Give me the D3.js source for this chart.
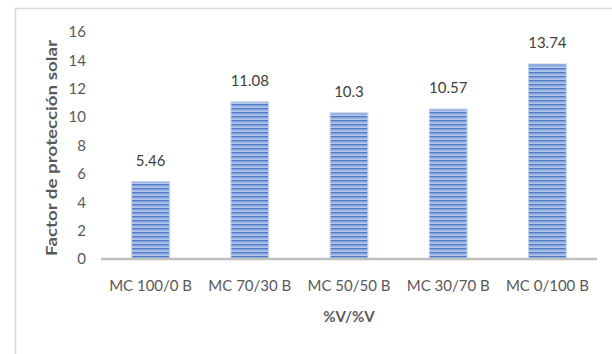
<!DOCTYPE html>
<html>
<head>
<meta charset="utf-8">
<script src="https://cdn.jsdelivr.net/npm/d3@7"></script>
<style>
  html, body { margin: 0; padding: 0; background: #fff; }
  svg { display: block; }
  text { font-family: Lato, "Open Sans", sans-serif; }
</style>
</head>
<body>
<svg id="chart" width="612" height="354"></svg>
<script>
// Sun protection factor per mixture (% v/v)
const categories = ["MC 100/0 B", "MC 70/30 B", "MC 50/50 B", "MC 30/70 B", "MC 0/100 B"];
const values = [5.46, 11.08, 10.3, 10.57, 13.74];
const valueLabels = ["5.46", "11.08", "10.3", "10.57", "13.74"];
const yTicks = [0, 2, 4, 6, 8, 10, 12, 14, 16];
const xTitle = "%V/%V";
const yTitle = "Factor de protección solar";

const svg = d3.select("#chart");
const W = 612, H = 354;

// chart frame
svg.append("path")
  .attr("d", `M15.5,${H} V8.5 H${W}`)
  .attr("fill", "none")
  .attr("stroke", "#d9d9d9")
  .attr("stroke-width", 1.5);

// striped fill for the bars
const defs = svg.append("defs");
const pat = defs.append("pattern")
  .attr("id", "stripes")
  .attr("patternUnits", "userSpaceOnUse")
  .attr("width", 10).attr("height", 4);
pat.append("rect").attr("width", 10).attr("height", 4).attr("fill", "#b3c7eb");
pat.append("rect").attr("y", 0).attr("width", 10).attr("height", 1.5).attr("fill", "#4f7bc9");
pat.append("rect").attr("y", 1.5).attr("width", 10).attr("height", 1).attr("fill", "#85a4db");

const x = d3.scaleBand()
  .domain(categories)
  .range([101, 597])
  .paddingInner(0.62)
  .paddingOuter(0.31);

const y = d3.scaleLinear()
  .domain([0, 16])
  .range([259, 32]);

// y axis tick labels
const yAxis = d3.axisLeft(y).tickValues(yTicks).tickSize(0).tickPadding(0);
const gy = svg.append("g").attr("transform", "translate(86,0)").call(yAxis);
gy.select(".domain").remove();
gy.selectAll("text")
  .attr("fill", "#595959")
  .style("font-size", "15px")
  .style("font-family", "Lato, sans-serif");

// bars
svg.append("g").selectAll("rect")
  .data(values)
  .join("rect")
  .attr("x", (d, i) => x(categories[i]))
  .attr("y", d => y(d))
  .attr("width", x.bandwidth())
  .attr("height", d => y(0) - y(d))
  .attr("fill", "url(#stripes)")
  .attr("stroke", "#c2d2ee")
  .attr("stroke-width", 1);

// value labels
svg.append("g").selectAll("text")
  .data(values)
  .join("text")
  .attr("x", (d, i) => x(categories[i]) + x.bandwidth() / 2)
  .attr("y", d => y(d) - 16)
  .attr("text-anchor", "middle")
  .attr("fill", "#404040")
  .style("font-size", "15px")
  .text((d, i) => valueLabels[i]);

// category axis
const xAxis = d3.axisBottom(x).tickSize(0).tickPadding(0);
const gx = svg.append("g").attr("transform", "translate(0,259)").call(xAxis);
gx.select(".domain").remove();
gx.selectAll("text")
  .attr("dy", null)
  .attr("y", 32)
  .attr("fill", "#595959")
  .style("font-size", "15px")
  .style("font-family", "Lato, sans-serif");

// baseline
svg.append("line")
  .attr("x1", 101).attr("x2", 597)
  .attr("y1", y(0)).attr("y2", y(0))
  .attr("stroke", "#bfbfbf")
  .attr("stroke-width", 2.5);

// axis titles
svg.append("text")
  .attr("x", 349).attr("y", 322)
  .attr("text-anchor", "middle")
  .attr("fill", "#595959")
  .style("font-size", "15px")
  .style("font-weight", "bold")
  .text(xTitle);

svg.append("text")
  .attr("transform", "translate(57,148) rotate(-90)")
  .attr("text-anchor", "middle")
  .attr("fill", "#595959")
  .attr("textLength", 216)
  .attr("lengthAdjust", "spacingAndGlyphs")
  .style("font-size", "15.5px")
  .style("font-weight", "bold")
  .text(yTitle);
</script>
</body>
</html>
